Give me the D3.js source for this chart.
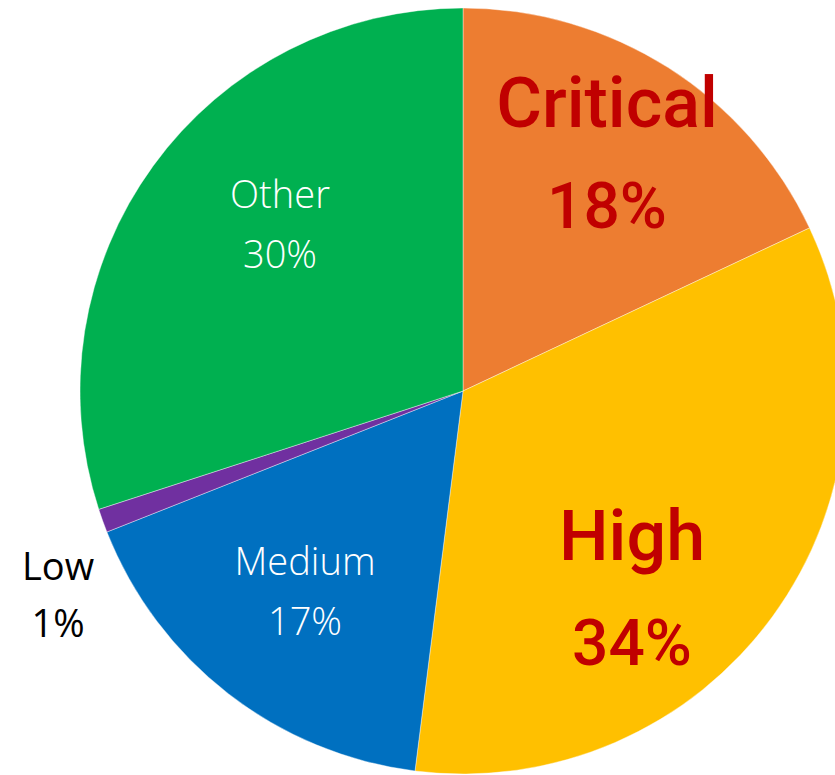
<!DOCTYPE html>
<html>
<head>
<meta charset="utf-8">
<script src="https://cdn.jsdelivr.net/npm/d3@7"></script>
<style>
  html, body { margin: 0; padding: 0; background: #ffffff; overflow: hidden; }
  svg { display: block; }
</style>
</head>
<body>
<svg id="chart" width="835" height="775"></svg>
<script>
// Share of findings by severity (percent)
const categories = ["Critical", "High", "Medium", "Low", "Other"];
const values = [18, 34, 17, 1, 30];
const colors = ["#ED7D31", "#FFC000", "#0070C0", "#7030A0", "#00B050"];

const width = 835, height = 775;
const cx = 463, cy = 391, radius = 383;

const svg = d3.select("#chart");
const g = svg.append("g").attr("transform", `translate(${cx},${cy})`);

const pie = d3.pie().sort(null).value(d => d.value);
const arc = d3.arc().innerRadius(0).outerRadius(radius);

const data = categories.map((c, i) => ({ name: c, value: values[i], color: colors[i] }));
const arcs = pie(data);

g.selectAll("path.slice")
  .data(arcs)
  .join("path")
  .attr("class", "slice")
  .attr("d", arc)
  .attr("fill", d => d.data.color)
  .attr("stroke", "#ffffff")
  .attr("stroke-width", 0.4);

// Label styling per category: big red callouts for the two severe groups
const bigFont = "Roboto, 'Open Sans', sans-serif";
const smallFont = "'Open Sans', 'Noto Sans', sans-serif";
const labelStyle = {
  Critical: { size: 70, pct: 64, weight: 500, fill: "#C00000", gap: 101, font: bigFont },
  High:     { size: 70, pct: 64, weight: 500, fill: "#C00000", gap: 105, font: bigFont },
  Medium:   { size: 38, pct: 38, weight: 300, fill: "#ffffff", gap: 60,  font: smallFont },
  Low:      { size: 38, pct: 38, weight: 400, fill: "#000000", gap: 57,  font: smallFont },
  Other:    { size: 38, pct: 38, weight: 300, fill: "#ffffff", gap: 60,  font: smallFont }
};

// Label anchor offsets from the pie centre
const labelPos = {
  Critical: [144, -264],
  High: [169, 169],
  Medium: [-158, 184],
  Low: [-405, 189],
  Other: [-183, -183]
};

const labels = g.selectAll("g.label")
  .data(arcs)
  .join("g")
  .attr("class", "label")
  .attr("transform", d => {
    const p = labelPos[d.data.name];
    return `translate(${p[0]},${p[1]})`;
  });

labels.each(function(d) {
  const s = labelStyle[d.data.name];
  const sel = d3.select(this);
  const common = (t, size) => t
    .attr("text-anchor", "middle")
    .attr("font-family", s.font)
    .attr("font-size", size)
    .attr("font-weight", s.weight)
    .attr("fill", s.fill);
  sel.append("text").call(common, s.size).attr("y", 0).text(d.data.name);
  sel.append("text").call(common, s.pct).attr("y", s.gap).text(d3.format("d")(d.data.value) + "%");
});
</script>
</body>
</html>
